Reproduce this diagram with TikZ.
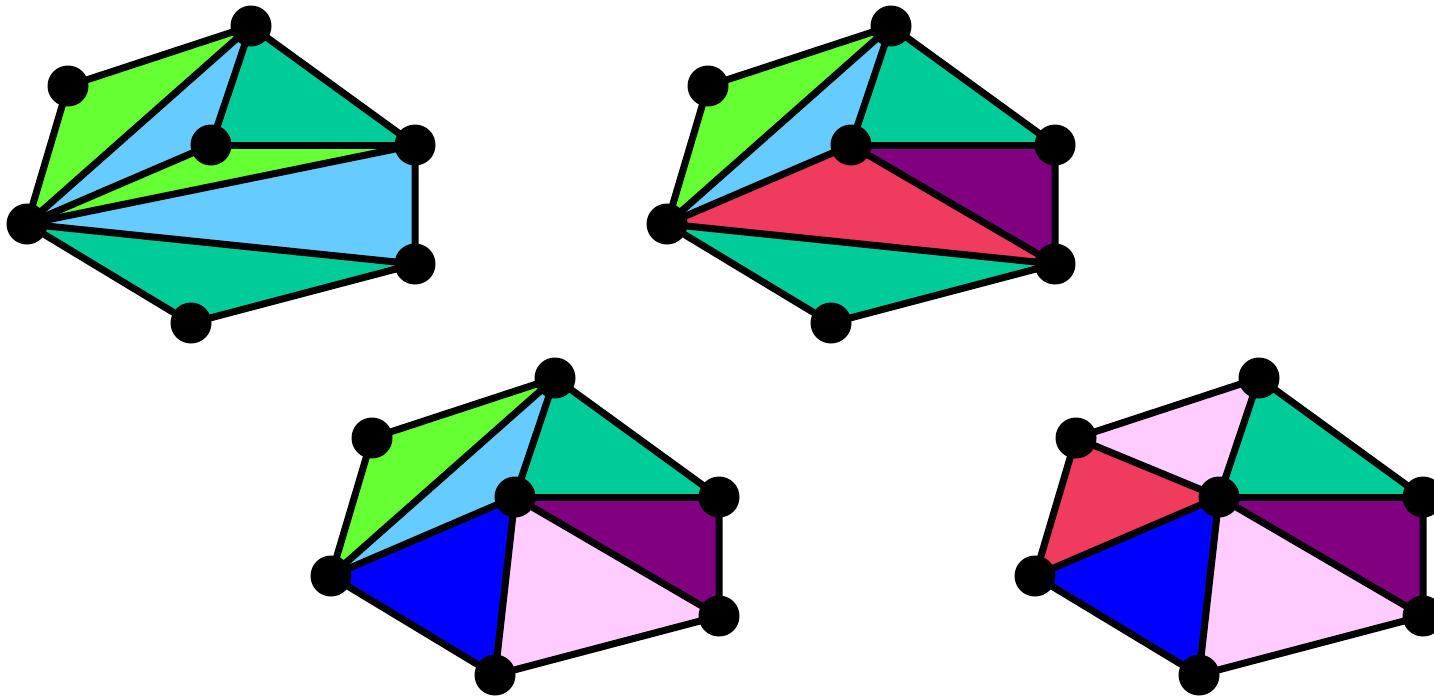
\documentclass[tikz,border=0pt]{standalone}
\usetikzlibrary{backgrounds}
\definecolor{cgreen}{HTML}{66FF33}
\definecolor{cblue}{HTML}{66CCFF}
\definecolor{cteal}{HTML}{00CC99}
\definecolor{cpurple}{HTML}{800080}
\definecolor{cred}{HTML}{EE3B5E}
\definecolor{cpink}{HTML}{FFCCFF}
\definecolor{cdeep}{HTML}{0000FF}
\tikzset{
  dot/.style={circle,fill=black,draw=none,minimum size=41pt,inner sep=0pt},
  edge/.style={draw=black,line width=7pt,line join=round,line cap=round},
}
\newcommand{\panelnodes}[3]{%
  \begin{scope}[shift={(#2,#3)}]
    \node[dot] (#1A) at (68,86) {};
    \node[dot] (#1B) at (251,26) {};
    \node[dot] (#1C) at (415,145) {};
    \node[dot] (#1D) at (415,264) {};
    \node[dot] (#1E) at (191,323) {};
    \node[dot] (#1F) at (27,224) {};
    \node[dot] (#1P) at (211,145) {};
  \end{scope}}
\newcommand{\tri}[4]{\fill[#1] (#2.center) -- (#3.center) -- (#4.center) -- cycle;}
\begin{document}
\begin{tikzpicture}[x=1pt,y=-1pt]
\useasboundingbox (0,0) rectangle (1434,696);
\panelnodes{a}{0}{0}
\panelnodes{b}{640}{0}
\panelnodes{c}{304}{352}
\panelnodes{d}{1008}{352}
\begin{scope}[on background layer]
  % panel 1
  \tri{cgreen}{aA}{aB}{aF}
  \tri{cblue}{aB}{aP}{aF}
  \tri{cteal}{aB}{aC}{aP}
  \tri{cgreen}{aP}{aC}{aF}
  \tri{cblue}{aF}{aC}{aD}
  \tri{cteal}{aF}{aD}{aE}
  \draw[edge] (aA.center) -- (aB.center) -- (aC.center) -- (aD.center) -- (aE.center) -- (aF.center) -- cycle;
  \draw[edge] (aB.center) -- (aF.center);
  \draw[edge] (aB.center) -- (aP.center);
  \draw[edge] (aP.center) -- (aC.center);
  \draw[edge] (aP.center) -- (aF.center);
  \draw[edge] (aF.center) -- (aC.center);
  \draw[edge] (aF.center) -- (aD.center);
  % panel 2
  \tri{cgreen}{bA}{bB}{bF}
  \tri{cblue}{bB}{bP}{bF}
  \tri{cteal}{bB}{bC}{bP}
  \tri{cpurple}{bP}{bC}{bD}
  \tri{cred}{bF}{bP}{bD}
  \tri{cteal}{bF}{bD}{bE}
  \draw[edge] (bA.center) -- (bB.center) -- (bC.center) -- (bD.center) -- (bE.center) -- (bF.center) -- cycle;
  \draw[edge] (bB.center) -- (bF.center);
  \draw[edge] (bB.center) -- (bP.center);
  \draw[edge] (bP.center) -- (bC.center);
  \draw[edge] (bP.center) -- (bF.center);
  \draw[edge] (bP.center) -- (bD.center);
  \draw[edge] (bF.center) -- (bD.center);
  % panel 3
  \tri{cgreen}{cA}{cB}{cF}
  \tri{cblue}{cB}{cP}{cF}
  \tri{cteal}{cB}{cC}{cP}
  \tri{cpurple}{cP}{cC}{cD}
  \tri{cpink}{cP}{cD}{cE}
  \tri{cdeep}{cF}{cP}{cE}
  \draw[edge] (cA.center) -- (cB.center) -- (cC.center) -- (cD.center) -- (cE.center) -- (cF.center) -- cycle;
  \draw[edge] (cB.center) -- (cF.center);
  \draw[edge] (cB.center) -- (cP.center);
  \draw[edge] (cP.center) -- (cC.center);
  \draw[edge] (cP.center) -- (cF.center);
  \draw[edge] (cP.center) -- (cD.center);
  \draw[edge] (cP.center) -- (cE.center);
  % panel 4
  \tri{cpink}{dA}{dB}{dP}
  \tri{cred}{dA}{dP}{dF}
  \tri{cteal}{dB}{dC}{dP}
  \tri{cpurple}{dP}{dC}{dD}
  \tri{cpink}{dP}{dD}{dE}
  \tri{cdeep}{dF}{dP}{dE}
  \draw[edge] (dA.center) -- (dB.center) -- (dC.center) -- (dD.center) -- (dE.center) -- (dF.center) -- cycle;
  \draw[edge] (dA.center) -- (dP.center);
  \draw[edge] (dB.center) -- (dP.center);
  \draw[edge] (dP.center) -- (dC.center);
  \draw[edge] (dP.center) -- (dF.center);
  \draw[edge] (dP.center) -- (dD.center);
  \draw[edge] (dP.center) -- (dE.center);
\end{scope}
\end{tikzpicture}
\end{document}
